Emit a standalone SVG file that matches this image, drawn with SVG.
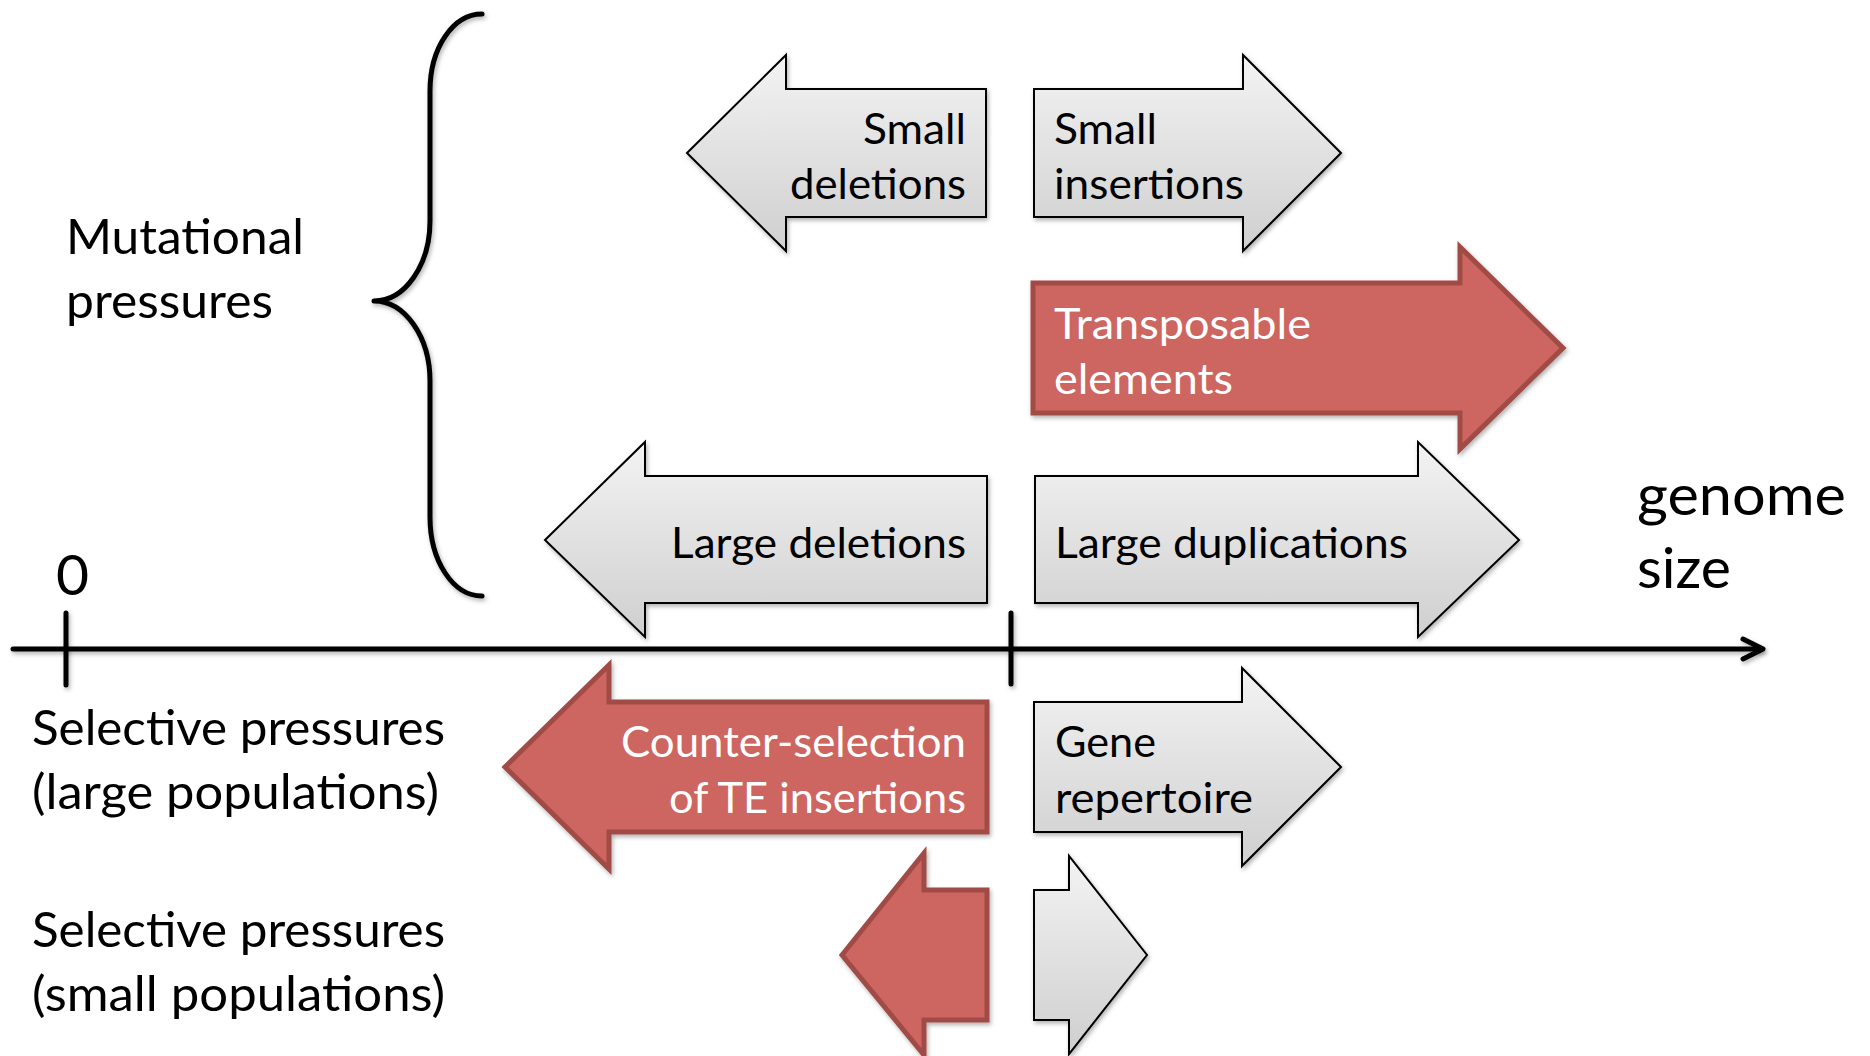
<svg xmlns="http://www.w3.org/2000/svg" width="1870" height="1056" viewBox="0 0 1870 1056">
  <defs>
    <linearGradient id="grayFill" x1="0" y1="0" x2="0" y2="1">
      <stop offset="0" stop-color="#f3f3f3"/>
      <stop offset="1" stop-color="#cfcfcf"/>
    </linearGradient>
    <filter id="shadow" x="-10%" y="-10%" width="120%" height="130%">
      <feDropShadow dx="1.5" dy="2.5" stdDeviation="2" flood-color="#000" flood-opacity="0.3"/>
    </filter>
    <!-- user-space region so straight lines (zero-size boxes) still render -->
    <filter id="lineShadow" filterUnits="userSpaceOnUse" x="0" y="0" width="1870" height="1056">
      <feDropShadow dx="1.5" dy="2.5" stdDeviation="2" flood-color="#000" flood-opacity="0.3"/>
    </filter>
  </defs>
  <style>
    .gray { fill: url(#grayFill); stroke: #000; stroke-width: 2; stroke-linejoin: miter; filter: url(#shadow); }
    .red { fill: #cd6560; stroke: #a14c47; stroke-width: 5; stroke-linejoin: miter; filter: url(#shadow); }
    .line { fill: none; stroke: #000; stroke-width: 5; stroke-linecap: round; stroke-linejoin: round; filter: url(#lineShadow); }
    text { font-family: Lato, "Open Sans", "Liberation Sans", sans-serif; }
    .in { font-size: 42px; fill: #000; }
    .inw { font-size: 42px; fill: #fff; }
    .lbl { font-size: 48px; fill: #000; }
    .big { font-size: 57px; fill: #000; }
  </style>

  <rect width="1870" height="1056" fill="#fff"/>

  <!-- brace grouping the mutational pressures -->
  <g id="brace">
    <path class="line" d="M482,14 C453,14 430,48 430,91 L430,221 C430,265 405,301 374,301 C405,301 430,337 430,381 L430,517 C430,561 453,596 482,596"/>
  </g>

  <!-- genome size axis with ticks -->
  <g id="connectors">
    <line class="line" x1="13" y1="649" x2="1761" y2="649"/>
    <polyline class="line" points="1743,639 1763,649 1743,659"/>
    <line class="line" x1="66" y1="613" x2="66" y2="685"/>
    <line class="line" x1="1011" y1="613" x2="1011" y2="684"/>
  </g>

  <!-- side labels -->
  <g id="label-mutational">
    <text class="lbl" x="66" y="254" textLength="238" lengthAdjust="spacingAndGlyphs">Mutational</text>
    <text class="lbl" x="66" y="318" textLength="207" lengthAdjust="spacingAndGlyphs">pressures</text>
  </g>
  <g id="label-zero">
    <text class="big" x="56" y="595">0</text>
  </g>
  <g id="label-genome-size">
    <text class="big" x="1637" y="515" textLength="209" lengthAdjust="spacingAndGlyphs">genome</text>
    <text class="big" x="1637" y="588" textLength="94" lengthAdjust="spacingAndGlyphs">size</text>
  </g>
  <g id="label-selective-large">
    <text class="lbl" x="32" y="745" textLength="413" lengthAdjust="spacingAndGlyphs">Selective pressures</text>
    <text class="lbl" x="32" y="809" textLength="407" lengthAdjust="spacingAndGlyphs">(large populations)</text>
  </g>
  <g id="label-selective-small">
    <text class="lbl" x="32" y="947" textLength="413" lengthAdjust="spacingAndGlyphs">Selective pressures</text>
    <text class="lbl" x="32" y="1011" textLength="413" lengthAdjust="spacingAndGlyphs">(small populations)</text>
  </g>

  <!-- mutational pressures -->
  <g id="small-deletions">
    <polygon class="gray" points="687,153 786,55 786,89 986,89 986,217 786,217 786,251"/>
    <text class="in" x="966" y="144" text-anchor="end" textLength="103" lengthAdjust="spacingAndGlyphs">Small</text>
    <text class="in" x="966" y="199" text-anchor="end" textLength="176" lengthAdjust="spacingAndGlyphs">deletions</text>
  </g>
  <g id="small-insertions">
    <polygon class="gray" points="1034,89 1243,89 1243,55 1341,153 1243,251 1243,217 1034,217"/>
    <text class="in" x="1054" y="144" textLength="103" lengthAdjust="spacingAndGlyphs">Small</text>
    <text class="in" x="1054" y="199" textLength="190" lengthAdjust="spacingAndGlyphs">insertions</text>
  </g>
  <g id="transposable-elements">
    <polygon class="red" points="1033,283 1460,283 1460,247 1563,348 1460,449 1460,413 1033,413"/>
    <text class="inw" x="1054" y="339" textLength="257" lengthAdjust="spacingAndGlyphs">Transposable</text>
    <text class="inw" x="1054" y="394" textLength="179" lengthAdjust="spacingAndGlyphs">elements</text>
  </g>
  <g id="large-deletions">
    <polygon class="gray" points="545,540 645,442 645,476 987,476 987,603 645,603 645,637"/>
    <text class="in" x="966" y="558" text-anchor="end" textLength="295" lengthAdjust="spacingAndGlyphs">Large deletions</text>
  </g>
  <g id="large-duplications">
    <polygon class="gray" points="1035,476 1418,476 1418,442 1519,540 1418,637 1418,603 1035,603"/>
    <text class="in" x="1055" y="558" textLength="353" lengthAdjust="spacingAndGlyphs">Large duplications</text>
  </g>

  <!-- selective pressures, large populations -->
  <g id="counter-selection">
    <polygon class="red" points="505,767 609,665 609,702 987,702 987,832 609,832 609,869"/>
    <text class="inw" x="966" y="757" text-anchor="end" textLength="345" lengthAdjust="spacingAndGlyphs">Counter-selection</text>
    <text class="inw" x="966" y="813" text-anchor="end" textLength="297" lengthAdjust="spacingAndGlyphs">of TE insertions</text>
  </g>
  <g id="gene-repertoire">
    <polygon class="gray" points="1034,702 1242,702 1242,668 1341,767 1242,866 1242,832 1034,832"/>
    <text class="in" x="1055" y="757" textLength="101" lengthAdjust="spacingAndGlyphs">Gene</text>
    <text class="in" x="1055" y="813" textLength="198" lengthAdjust="spacingAndGlyphs">repertoire</text>
  </g>

  <!-- selective pressures, small populations -->
  <g id="small-counter-selection">
    <polygon class="red" points="842,955 924,853 924,890 987,890 987,1020 924,1020 924,1055"/>
  </g>
  <g id="small-gene-repertoire">
    <polygon class="gray" points="1034,890 1069,890 1069,856 1147,955 1069,1054 1069,1020 1034,1020"/>
  </g>
</svg>
